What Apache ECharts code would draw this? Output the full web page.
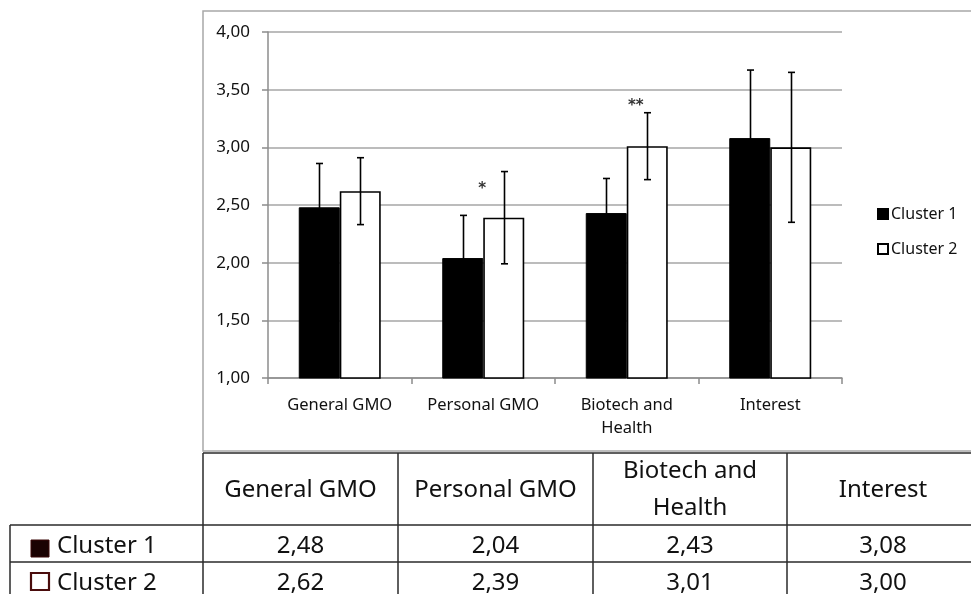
<!DOCTYPE html>
<html>
<head>
<meta charset="utf-8">
<script src="https://cdn.jsdelivr.net/npm/echarts@6/dist/echarts.min.js"></script>
<style>
  html, body { margin: 0; padding: 0; background: #fff; }
  #chart { width: 971px; height: 594px; }
</style>
</head>
<body>
<div id="chart"></div>
<script>
// Scale means per cluster, with standard deviations for the error bars
const categories = ['General GMO', 'Personal GMO', 'Biotech and\nHealth', 'Interest'];
const seriesNames = ['Cluster 1', 'Cluster 2'];
const cluster1Means = [2.48, 2.04, 2.43, 3.08];
const cluster2Means = [2.62, 2.39, 3.01, 3.00];
const cluster1Sd = [0.38, 0.37, 0.30, 0.59];
const cluster2Sd = [0.29, 0.40, 0.29, 0.65];
// Significance markers between clusters and the level they sit at
const sigMarks = ['', '*', '**', ''];
const sigLevels = [null, 2.67, 3.39, null];
const yTicks = { min: 1, max: 4, step: 0.5 };

const fmt = v => v.toFixed(2).replace('.', ',');
const FONT = '"Noto Sans", sans-serif';

const chart = echarts.init(document.getElementById('chart'), null, { renderer: 'canvas' });

const BAR_W = 41;
function errorSeries(name, means, sds, dx) {
  return {
    type: 'custom',
    name: name,
    z: 5,
    silent: true,
    data: means.map((m, i) => [i, m, sds[i]]),
    encode: { x: 0, y: 1 },
    renderItem: function (params, api) {
      const i = api.value(0), m = api.value(1), e = api.value(2);
      const top = api.coord([i, m + e]);
      const bot = api.coord([i, m - e]);
      const x = Math.round(top[0] + dx) + 0.5;
      const st = { stroke: '#000', lineWidth: 1.6 };
      return {
        type: 'group',
        children: [
          { type: 'line', shape: { x1: x, y1: top[1], x2: x, y2: bot[1] }, style: st },
          { type: 'line', shape: { x1: x - 3.5, y1: top[1], x2: x + 3.5, y2: top[1] }, style: st },
          { type: 'line', shape: { x1: x - 3.5, y1: bot[1], x2: x + 3.5, y2: bot[1] }, style: st }
        ]
      };
    }
  };
}

// Table underneath the plot: column edges and row edges
const colX = [203, 398, 593, 787, 979];
const tableLeft = 10;
const rowY = [453, 525, 562, 599];
const rowTextY = [546, 583];
const keyBoxY = [540, 573];
const tableGraphics = [];
const lineStyle = { stroke: '#2a2a2a', lineWidth: 1.5 };
tableGraphics.push({ type: 'line', shape: { x1: colX[0], y1: rowY[0], x2: colX[4], y2: rowY[0] }, style: lineStyle });
tableGraphics.push({ type: 'line', shape: { x1: tableLeft, y1: rowY[1], x2: colX[4], y2: rowY[1] }, style: lineStyle });
tableGraphics.push({ type: 'line', shape: { x1: tableLeft, y1: rowY[2], x2: colX[4], y2: rowY[2] }, style: lineStyle });
tableGraphics.push({ type: 'line', shape: { x1: tableLeft, y1: rowY[1], x2: tableLeft, y2: rowY[3] }, style: lineStyle });
for (let c = 0; c < 4; c++) {
  tableGraphics.push({ type: 'line', shape: { x1: colX[c], y1: rowY[0], x2: colX[c], y2: rowY[3] }, style: lineStyle });
}
categories.forEach((cat, c) => {
  tableGraphics.push({
    type: 'text',
    style: {
      text: cat, x: (colX[c] + colX[c + 1]) / 2, y: (rowY[0] + rowY[1]) / 2 + 1,
      textAlign: 'center', textVerticalAlign: 'middle',
      font: '24px ' + FONT, lineHeight: 37, fill: '#111'
    }
  });
});
[cluster1Means, cluster2Means].forEach((vals, r) => {
  const cy = rowTextY[r];
  vals.forEach((v, c) => {
    tableGraphics.push({
      type: 'text',
      style: {
        text: fmt(v), x: (colX[c] + colX[c + 1]) / 2, y: cy,
        textAlign: 'center', textVerticalAlign: 'middle',
        font: '24px ' + FONT, fill: '#111'
      }
    });
  });
  tableGraphics.push({
    type: 'rect',
    shape: { x: 31, y: keyBoxY[r], width: 18, height: 17 },
    style: r === 0 ? { fill: '#1a0202', stroke: '#3a0808', lineWidth: 1 }
                   : { fill: '#fff', stroke: '#4a0c0c', lineWidth: 2.2 }
  });
  tableGraphics.push({
    type: 'text',
    style: {
      text: seriesNames[r], x: 57, y: cy,
      textAlign: 'left', textVerticalAlign: 'middle',
      font: '24px ' + FONT, fill: '#111'
    }
  });
});

const option = {
  backgroundColor: '#fff',
  animation: false,
  textStyle: { fontFamily: FONT },
  grid: { left: 268, right: 129, top: 32, bottom: 216, containLabel: false },
  legend: {
    data: seriesNames,
    orient: 'vertical',
    left: 872,
    top: 201,
    itemWidth: 10,
    itemHeight: 10,
    itemGap: 19,
    icon: 'rect',
    selectedMode: false,
    textStyle: { fontSize: 16, color: '#111', fontFamily: FONT, padding: [0, 0, 0, -2] }
  },
  xAxis: {
    type: 'category',
    data: categories,
    boundaryGap: true,
    axisLine: { lineStyle: { color: '#8c8c8c', width: 1.5 } },
    axisTick: { show: true, length: 6, lineStyle: { color: '#8c8c8c', width: 1.5 } },
    axisLabel: {
      interval: 0, hideOverlap: false,
      fontSize: 16.5, color: '#111', margin: 16, lineHeight: 23, fontFamily: FONT
    }
  },
  yAxis: {
    type: 'value',
    min: yTicks.min,
    max: yTicks.max,
    interval: yTicks.step,
    axisLine: { show: true, lineStyle: { color: '#8c8c8c', width: 1.5 } },
    axisTick: { show: true, length: 6, lineStyle: { color: '#8c8c8c', width: 1.5 } },
    splitLine: { lineStyle: { color: '#a6a6a6', width: 1.5 } },
    axisLabel: { fontSize: 17, color: '#111', margin: 18, formatter: fmt, fontFamily: FONT }
  },
  series: [
    {
      name: seriesNames[0], type: 'bar', data: cluster1Means, barWidth: BAR_W, barGap: '0%',
      itemStyle: { color: '#000', borderColor: '#000', borderWidth: 1 }, z: 2
    },
    {
      name: seriesNames[1], type: 'bar', data: cluster2Means, barWidth: BAR_W, barGap: '0%',
      itemStyle: { color: '#fff', borderColor: '#000', borderWidth: 1.6 }, z: 2
    },
    errorSeries('sd1', cluster1Means, cluster1Sd, -BAR_W / 2),
    errorSeries('sd2', cluster2Means, cluster2Sd, BAR_W / 2),
    {
      type: 'custom',
      name: 'sig',
      z: 6,
      silent: true,
      data: sigMarks.map((s, i) => [i, sigLevels[i] == null ? yTicks.min : sigLevels[i], s]),
      encode: { x: 0, y: 1 },
      renderItem: function (params, api) {
        const i = params.dataIndex;
        if (!sigMarks[i]) return null;
        const p = api.coord([i, sigLevels[i]]);
        const dx = sigMarks[i].length > 1 ? 9 : -1;
        return {
          type: 'text',
          style: {
            text: sigMarks[i], x: p[0] + dx, y: p[1] + 4,
            textAlign: 'center', textVerticalAlign: 'middle',
            font: 'bold 15px "DejaVu Sans", sans-serif', fill: '#333'
          }
        };
      }
    }
  ],
  graphic: [
    {
      type: 'rect', z: -1,
      shape: { x: 203, y: 11, width: 800, height: 440 },
      style: { fill: 'none', stroke: '#a8a8a8', lineWidth: 1.5 }
    }
  ].concat(tableGraphics)
};

chart.setOption(option);
</script>
</body>
</html>
